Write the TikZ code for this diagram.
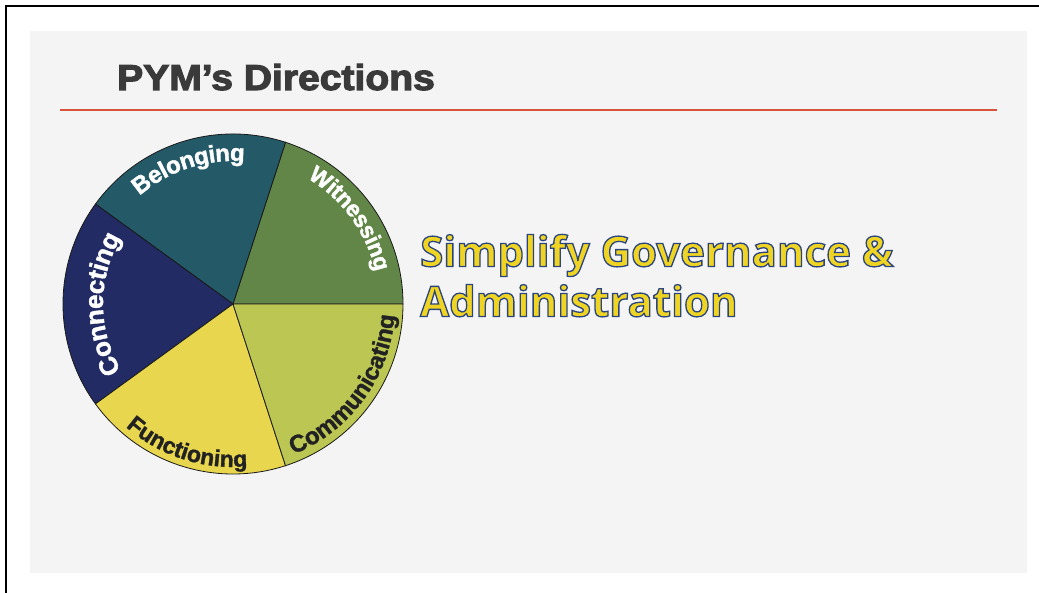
\documentclass[tikz,border=0pt]{standalone}
\usepackage{fontspec}
\setmainfont{Liberation Sans}
\newfontfamily\simplefont{Open Sans}
\usetikzlibrary{decorations.text}
\definecolor{panelgray}{HTML}{F4F4F4}
\definecolor{titlegray}{HTML}{3A3A3A}
\definecolor{rule}{HTML}{D9533A}
\definecolor{cWit}{HTML}{628648}
\definecolor{cBel}{HTML}{245A68}
\definecolor{cCon}{HTML}{222B63}
\definecolor{cFun}{HTML}{E8D64E}
\definecolor{cCom}{HTML}{BCC653}
\definecolor{edge}{HTML}{1A1A1A}
\definecolor{darktext}{HTML}{222222}
\definecolor{bigyellow}{HTML}{F0D423}
% text render mode helpers (fill + stroke)
\newcommand\strokeon[1]{\special{pdf:literal direct #1}}
\newcommand\strokeoff{\special{pdf:literal direct 0 Tr}}
\newcommand\lblfont[3]{\bfseries\fontsize{#1}{#1}\selectfont\kern-#2pt\strokeon{#3 w 2 Tr}}
\tikzset{
  slice/.style={fill=#1, draw=edge, line width=0.8pt},
  arclabel/.style={decorate, decoration={text along path, text align=center, text={#1}}},
  bigtext/.style={anchor=base west, inner sep=0pt, font=\simplefont\bfseries\fontsize{42}{42}\selectfont},
}
\begin{document}
\begin{tikzpicture}[x=1pt,y=1pt]
\useasboundingbox (0,0) rectangle (1039,593);
\fill[white] (0,0) rectangle (1039,593);
\fill[panelgray] (30,20) rectangle (1027,562);
\draw[line width=2.3pt] (6.2,0) -- (6.2,586.8) -- (1039,586.8);
% title
\node[anchor=base west, inner sep=0pt, text=titlegray, xscale=1.085,
      font=\bfseries\fontsize{36}{36}\selectfont] (title) at (117,503)
      {\strokeon{1.1 w 2 Tr}PYM’s Directions\strokeoff};
\coordinate (ruleL) at (60,483);
\coordinate (ruleR) at (997,483);
\draw[rule, line width=2pt] (ruleL) -- (ruleR);
% pie
\coordinate (c) at (233,289);
\foreach \a/\b/\col in {0/72/cWit, 72/144/cBel, 144/216/cCon, 216/288/cFun, 288/360/cCom}
  \draw[slice=\col] (c) -- ([shift={(\a:170)}]c) arc[start angle=\a, end angle=\b, radius=170] -- cycle;
% labels, tops outward (clockwise)
\path[arclabel={|\lblfont{24}{0.5}{0.4}\color{white}|Belonging}]
  ([shift={(150:143)}]c) arc[start angle=150, end angle=66, radius=143];
\path[arclabel={|\lblfont{23}{0.4}{0.4}\color{white}|Witnessing}]
  ([shift={(80:146)}]c) arc[start angle=80, end angle=-8, radius=146];
\path[arclabel={|\lblfont{26}{0.4}{0.4}\color{white}|Connecting}]
  ([shift={(225:130)}]c) arc[start angle=225, end angle=135, radius=130];
% labels, tops inward (counter-clockwise)
\path[arclabel={|\lblfont{24}{0}{0.3}\color{darktext}|Communicating}]
  ([shift={(276:162)}]c) arc[start angle=276, end angle=372, radius=162];
\path[arclabel={|\lblfont{23}{0}{0.3}\color{darktext}|Functioning}]
  ([shift={(206:163)}]c) arc[start angle=206, end angle=298, radius=163];
% right text
\node[bigtext, text=bigyellow] (line1) at (420,326.5)
  {\strokeon{0.165 0.271 0.502 RG 1.3 w 2 Tr}Simplify Governance \&\strokeoff};
\node[bigtext, text=bigyellow] (line2) at (420,276.5)
  {\strokeon{0.165 0.271 0.502 RG 1.3 w 2 Tr}Administration\strokeoff};
\end{tikzpicture}
\end{document}
